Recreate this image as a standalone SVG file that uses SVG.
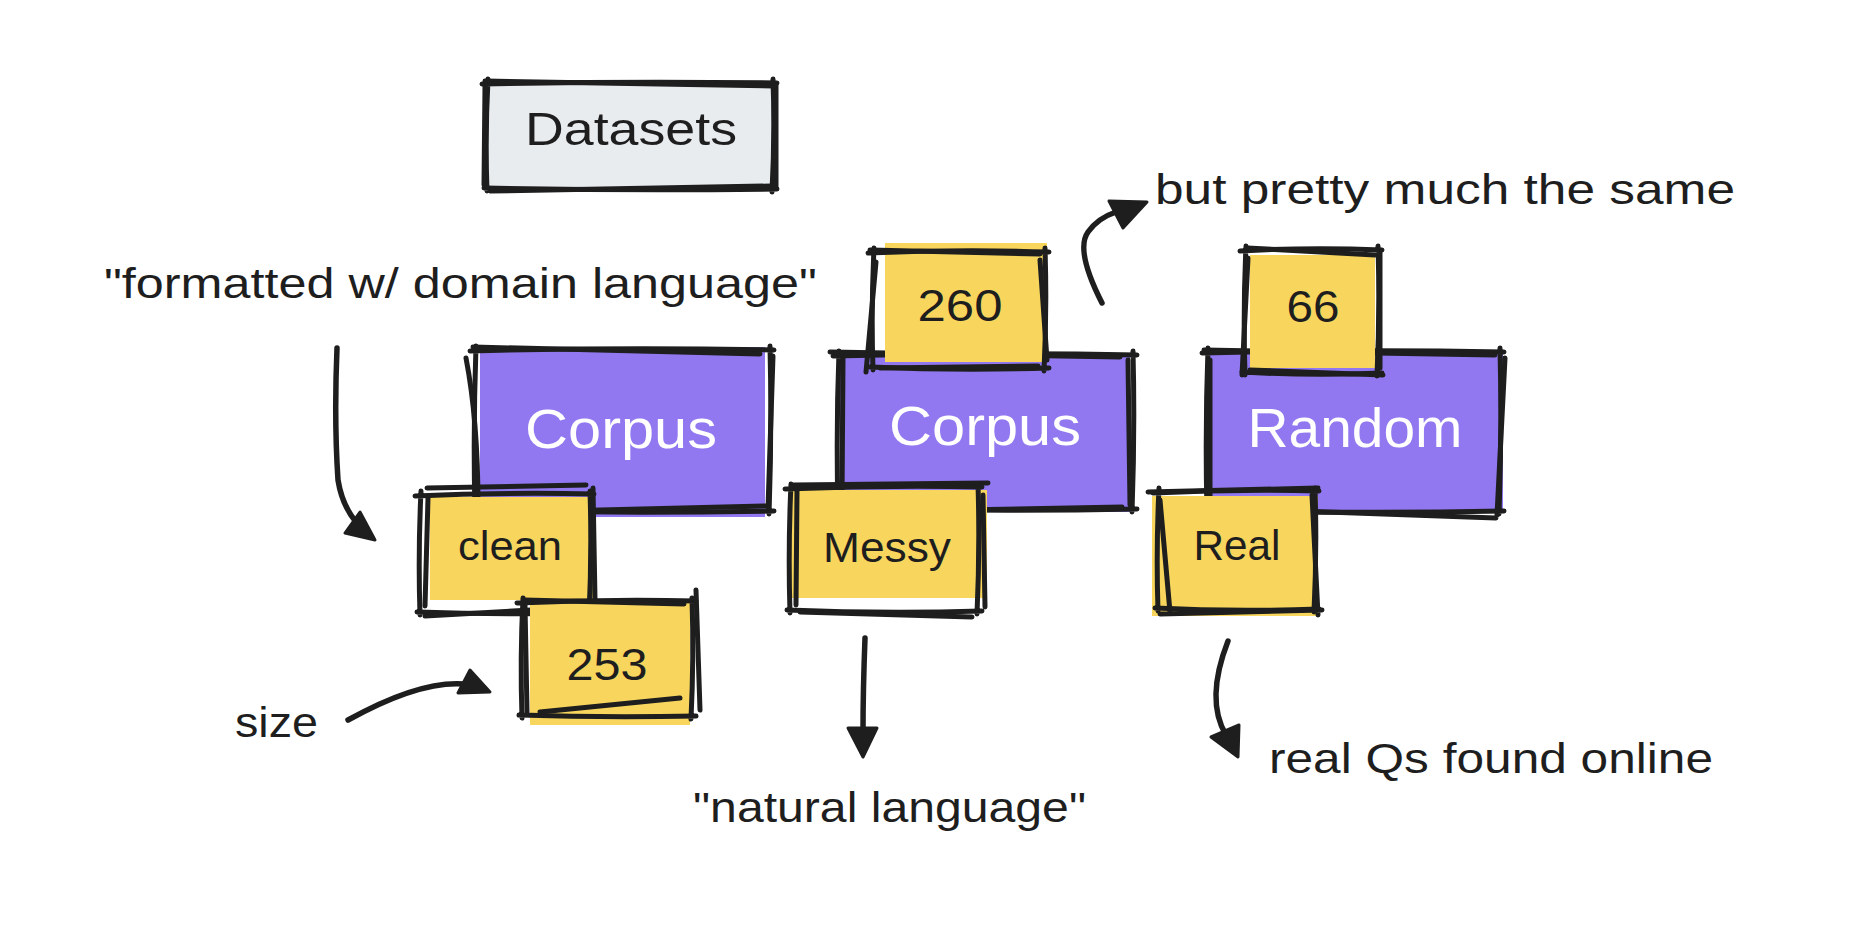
<svg xmlns="http://www.w3.org/2000/svg" width="1858" height="948" viewBox="0 0 1858 948">
<defs>
<style>
.sk{fill:none;stroke:#1e1e1e;stroke-width:5;stroke-linecap:round;stroke-linejoin:round}
.ar{fill:none;stroke:#1e1e1e;stroke-width:5.5;stroke-linecap:round;stroke-linejoin:round}
.hd{fill:#1e1e1e;stroke:#1e1e1e;stroke-width:3;stroke-linejoin:round}
.gray{fill:#e9ecef}
.purple{fill:#9178f0}
.yellow{fill:#f8d65e}
text{font-family:"Liberation Sans",Arial,sans-serif;fill:#1e1e1e;text-anchor:middle}
.w{fill:#ffffff}
.ann{text-anchor:start}
</style>
</defs>
<rect width="1858" height="948" fill="#ffffff"/>

<g id="datasets">
<rect class="gray" x="488" y="84" width="285" height="104"/>
<path class="sk" d="M482,84 Q630,81 777,83 M773,79 Q775,135 772,192 M777,189 Q630,191 484,188 M487,191 Q485,135 488,79"/>
<path class="sk" d="M485,81 L774,86 M776,85 L776,186 M771,186 L490,191 M484,185 L485,86"/>
<text x="631" y="145" font-size="46" textLength="212" lengthAdjust="spacingAndGlyphs">Datasets</text>
</g>

<g id="corpus1">
<rect class="purple" x="480" y="347" width="285" height="170"/>
<path class="sk" d="M470,351 Q620,347 774,350 M770,346 Q772,430 769,514 M774,511 Q620,514 472,510 M475,513 Q473,430 476,346"/>
<path class="sk" d="M473,347 L760,354 M773,356 L768,508 M767,506 L478,513 M466,358 Q478,420 478,507"/>
<text class="w" x="621" y="448" font-size="56" textLength="192" lengthAdjust="spacingAndGlyphs">Corpus</text>
</g>

<g id="clean">
<rect class="yellow" x="430" y="497" width="165" height="103"/>
<path class="sk" d="M415,496 Q505,492 594,494 M590,491 Q592,552 589,616 M594,613 Q505,615 417,612 M420,615 Q418,553 421,491"/>
<path class="sk" d="M427,488 L586,485 M593,488 L595,600 M586,607 L425,616 M425,606 L428,498"/>
<text x="510" y="560" font-size="40" textLength="104" lengthAdjust="spacingAndGlyphs">clean</text>
</g>

<g id="n253">
<rect class="yellow" x="530" y="600" width="160" height="125"/>
<path class="sk" d="M517,603 Q607,599 696,601 M692,598 Q694,657 691,719 M696,716 Q607,718 519,715 M522,718 Q520,658 523,598"/>
<path class="sk" d="M524,600 L684,604 M696,590 L700,710 M680,698 L540,712 M527,712 L525,605"/>
<text x="607" y="680" font-size="44" textLength="81" lengthAdjust="spacingAndGlyphs">253</text>
</g>

<g id="corpus2">
<rect class="purple" x="840" y="353" width="290" height="159"/>
<path class="sk" d="M833,356 Q985,352 1137,355 M1133,351 Q1135,430 1132,512 M1137,509 Q985,512 835,508 M838,511 Q836,430 839,351"/>
<path class="sk" d="M830,352 L1120,357 M1128,360 L1130,505 M1122,507 L845,512 M842,500 L843,358"/>
<text class="w" x="985" y="445" font-size="56" textLength="192" lengthAdjust="spacingAndGlyphs">Corpus</text>
</g>

<g id="n260">
<rect class="yellow" x="885" y="243" width="162" height="119"/>
<path class="sk" d="M868,253 Q960,249 1049,252 M1045,248 Q1047,310 1044,371 M1049,368 Q960,371 870,367 M873,370 Q871,310 874,248"/>
<path class="sk" d="M870,250 L1040,254 M1040,260 L1047,360 M1038,366 L880,368 M866,372 L876,262"/>
<text x="960" y="321" font-size="44" textLength="85" lengthAdjust="spacingAndGlyphs">260</text>
</g>

<g id="messy">
<rect class="yellow" x="790" y="490" width="197" height="108"/>
<path class="sk" d="M785,489 Q885,485 982,487 M978,484 Q980,548 977,614 M982,611 Q885,614 787,610 M790,613 Q788,548 791,484"/>
<path class="sk" d="M793,485 L988,483 M983,495 L985,607 M972,617 L800,612 M796,605 L797,490"/>
<text x="887" y="562" font-size="42" textLength="128" lengthAdjust="spacingAndGlyphs">Messy</text>
</g>

<g id="random">
<rect class="purple" x="1210" y="350" width="293" height="163"/>
<path class="sk" d="M1202,353 Q1355,349 1504,352 M1500,348 Q1502,430 1499,514 M1504,511 Q1355,514 1204,510 M1207,513 Q1205,430 1208,348"/>
<path class="sk" d="M1204,350 L1495,355 M1505,358 L1497,515 M1496,518 L1215,508 M1210,500 L1210,360"/>
<text class="w" x="1355" y="447" font-size="56" textLength="215" lengthAdjust="spacingAndGlyphs">Random</text>
</g>

<g id="n66">
<rect class="yellow" x="1250" y="255" width="125" height="113"/>
<path class="sk" d="M1240,251 Q1310,247 1382,250 M1378,246 Q1380,310 1377,376 M1382,373 Q1310,376 1242,372 M1245,375 Q1243,310 1246,246"/>
<path class="sk" d="M1247,248 L1375,255 M1380,252 L1380,368 M1383,375 L1250,370 M1242,375 L1248,258"/>
<text x="1313" y="322" font-size="44" textLength="53" lengthAdjust="spacingAndGlyphs">66</text>
</g>

<g id="real">
<rect class="yellow" x="1152" y="496" width="166" height="120"/>
<path class="sk" d="M1153,493 Q1235,489 1319,491 M1315,488 Q1317,550 1314,612 M1319,609 Q1235,612 1155,608 M1158,611 Q1156,550 1159,488"/>
<path class="sk" d="M1148,492 L1318,488 M1312,495 L1318,615 M1322,610 L1160,614 M1170,612 L1160,500"/>
<text x="1237" y="560" font-size="42" textLength="87" lengthAdjust="spacingAndGlyphs">Real</text>
</g>

<g id="labels">
<text class="ann" x="104" y="298" font-size="42" textLength="713" lengthAdjust="spacingAndGlyphs">"formatted w/ domain language"</text>
<text class="ann" x="1155" y="204" font-size="42" textLength="580" lengthAdjust="spacingAndGlyphs">but pretty much the same</text>
<text class="ann" x="235" y="737" font-size="42" textLength="83" lengthAdjust="spacingAndGlyphs">size</text>
<text class="ann" x="693" y="822" font-size="42" textLength="393" lengthAdjust="spacingAndGlyphs">"natural language"</text>
<text class="ann" x="1269" y="773" font-size="42" textLength="444" lengthAdjust="spacingAndGlyphs">real Qs found online</text>
</g>

<g id="connectors">
<path class="ar" d="M337,348 Q334,420 338,480 Q342,505 356,522"/>
<polygon class="hd" points="375,540 345,533 360,512"/>
<path class="ar" d="M348,720 Q420,680 465,684"/>
<polygon class="hd" points="490,692 458,693 470,670"/>
<path class="ar" d="M865,638 Q863,690 863,732"/>
<polygon class="hd" points="863,757 848,728 877,728"/>
<path class="ar" d="M1228,641 Q1205,700 1226,735"/>
<polygon class="hd" points="1238,757 1211,737 1239,725"/>
<path class="ar" d="M1102,303 Q1075,250 1088,232 Q1098,218 1116,212"/>
<polygon class="hd" points="1147,202 1109,201 1123,228"/>
</g>
</svg>
